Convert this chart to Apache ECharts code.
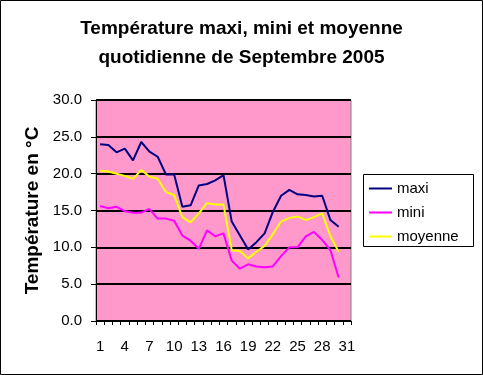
<!DOCTYPE html>
<html>
<head>
<meta charset="utf-8">
<script src="https://cdn.jsdelivr.net/npm/echarts@6/dist/echarts.min.js"></script>
<style>
html,body{margin:0;padding:0;background:#fff;}
#c{width:483px;height:375px;}
</style>
</head>
<body>
<div id="c"></div>
<script>
var days = ['1','2','3','4','5','6','7','8','9','10','11','12','13','14','15','16','17','18','19','20','21','22','23','24','25','26','27','28','29','30','31'];
var maxi = [24.0, 23.9, 22.9, 23.4, 21.8, 24.3, 23.0, 22.3, 19.9, 19.9, 15.5, 15.7, 18.4, 18.6, 19.1, 19.8, 13.5, 11.6, 9.7, 10.7, 11.9, 14.8, 17.0, 17.8, 17.2, 17.1, 16.9, 17.0, 13.7, 12.8, null];
var mini = [15.6, 15.3, 15.5, 14.9, 14.7, 14.7, 15.2, 13.9, 13.9, 13.6, 11.6, 10.9, 9.8, 12.3, 11.5, 11.9, 8.2, 7.1, 7.7, 7.4, 7.3, 7.4, 8.8, 10.0, 10.0, 11.5, 12.1, 11.0, 9.6, 5.9, null];
var moyenne = [20.4, 20.3, 20.0, 19.7, 19.3, 20.5, 19.6, 19.3, 17.5, 17.1, 14.1, 13.4, 14.6, 16.0, 15.8, 15.8, 9.6, 9.5, 8.5, 9.4, 10.2, 11.8, 13.5, 14.0, 14.2, 13.7, 14.1, 14.6, 11.5, 9.4, null];
var seriesNames = ['maxi', 'mini', 'moyenne'];
var titleText = 'Température maxi, mini et moyenne\nquotidienne de Septembre 2005';
var yTitle = 'Température en °C';

var FONT = '"Liberation Sans", Arial, sans-serif';
var chart = echarts.init(document.getElementById('c'));
function mk(name, data, color) {
  return {
    name: name, type: 'line', data: data, symbol: 'none', smooth: false,
    lineStyle: { color: color, width: 2 }, itemStyle: { color: color },
    connectNulls: false, animation: false
  };
}
chart.setOption({
  animation: false,
  backgroundColor: '#ffffff',
  graphic: [{
    type: 'rect', silent: true, z: 100,
    shape: { x: 0.5, y: 0.5, width: 482, height: 374 },
    style: { fill: 'none', stroke: '#000', lineWidth: 1 }
  }, {
    type: 'rect', silent: true, z: 100,
    shape: { x: 363.5, y: 174.5, width: 110, height: 72 },
    style: { fill: 'none', stroke: '#000', lineWidth: 1 }
  }],
  title: {
    text: titleText,
    left: 'center', top: 9,
    textStyle: { fontFamily: FONT, fontSize: 19, fontWeight: 'bold', color: '#000', lineHeight: 29 }
  },
  legend: {
    orient: 'vertical',
    left: 363, top: 176,
    data: seriesNames,
    icon: 'rect',
    itemWidth: 23, itemHeight: 2,
    itemGap: 9,
    padding: [5, 14, 4, 6],
    borderWidth: 0,
    textStyle: { fontFamily: FONT, fontSize: 15, color: '#000', lineHeight: 15 }
  },
  grid: {
    left: 96, right: 132, top: 100, bottom: 54,
    show: true, backgroundColor: '#FF99CC', borderColor: '#808080', borderWidth: 1
  },
  xAxis: {
    type: 'category', data: days, boundaryGap: true,
    axisLine: { lineStyle: { color: '#000', width: 1 } },
    axisTick: { show: true, interval: 0, length: 4, alignWithLabel: false, lineStyle: { color: '#000' } },
    axisLabel: { interval: 2, margin: 18, fontFamily: FONT, fontSize: 15, color: '#000' },
    splitLine: { show: false }
  },
  yAxis: {
    type: 'value', min: 0, max: 30, interval: 5,
    name: yTitle, nameLocation: 'middle', nameGap: 52, nameRotate: 90,
    nameTextStyle: { fontFamily: FONT, fontSize: 19, fontWeight: 'bold', color: '#000' },
    axisLine: { show: true, lineStyle: { color: '#000', width: 1 } },
    axisTick: { show: true, length: 5, lineStyle: { color: '#000' } },
    axisLabel: { margin: 14, fontFamily: FONT, fontSize: 15, color: '#000', formatter: function (v) { return v.toFixed(1); } },
    splitLine: { show: true, lineStyle: { color: '#000', width: 2 } }
  },
  series: [mk('maxi', maxi, '#000080'), mk('mini', mini, '#FF00FF'), mk('moyenne', moyenne, '#FFFF00')]
});
</script>
</body>
</html>
